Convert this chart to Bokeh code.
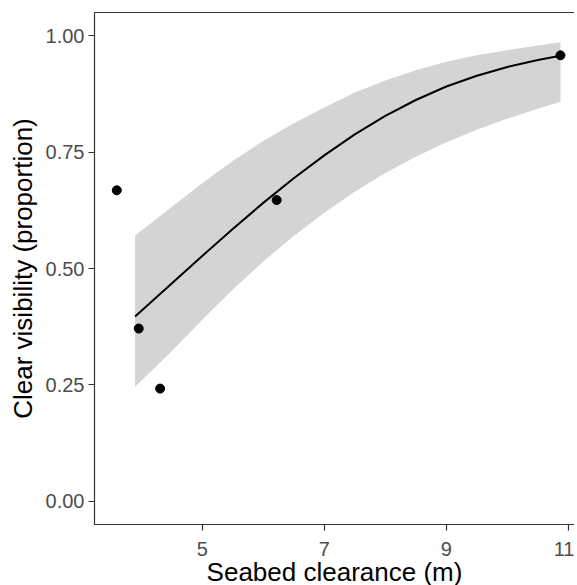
from bokeh.plotting import figure
from bokeh.models import Range1d, FixedTicker, LinearAxis, ColumnDataSource
from bokeh.embed import file_html
from bokeh.resources import INLINE

# observed points
obs_x = [3.60, 3.96, 4.31, 6.22, 10.87]
obs_y = [0.668, 0.371, 0.242, 0.647, 0.958]

# fitted curve and confidence band
fit_x = [3.9, 4.5, 5.0, 5.5, 6.0, 6.5, 7.0, 7.5, 8.0, 8.5, 9.0, 9.5, 10.0, 10.5, 10.87]
fit_y = [0.397, 0.468, 0.527, 0.585, 0.641, 0.694, 0.743, 0.788, 0.828, 0.862, 0.891, 0.914, 0.933, 0.948, 0.957]
fit_upper = [0.571, 0.632, 0.683, 0.731, 0.774, 0.812, 0.846, 0.878, 0.904, 0.926, 0.944, 0.958, 0.969, 0.979, 0.986]
fit_lower = [0.246, 0.322, 0.390, 0.455, 0.515, 0.570, 0.620, 0.665, 0.705, 0.740, 0.771, 0.798, 0.822, 0.843, 0.858]

x_ticks = [5, 7, 9, 11]
y_ticks = [0.0, 0.25, 0.5, 0.75, 1.0]
y_tick_labels = ["0.00", "0.25", "0.50", "0.75", "1.00"]

x_title = "Seabed clearance (m)"
y_title = "Clear visibility (proportion)"

FONT = "Liberation Sans"

p = figure(width=574, height=589, output_backend="svg", toolbar_location=None,
           x_range=Range1d(3.235, 11.1), y_range=Range1d(-0.05, 1.05),
           min_border_left=94, min_border_right=0, min_border_top=12, min_border_bottom=65)
p.outline_line_color = None
p.xgrid.visible = False
p.ygrid.visible = False
p.background_fill_color = "white"
p.border_fill_color = "white"

band = ColumnDataSource(dict(x=fit_x, lo=fit_lower, hi=fit_upper))
p.varea(x="x", y1="lo", y2="hi", source=band, fill_color="#D4D4D4", fill_alpha=1.0)
p.line(fit_x, fit_y, line_color="black", line_width=2)
p.scatter(obs_x, obs_y, size=9, fill_color="black", line_color="black")

for ax in (p.xaxis[0], p.yaxis[0]):
    ax.axis_line_color = "#333333"
    ax.axis_line_width = 1.2
    ax.major_tick_line_color = "#333333"
    ax.major_tick_line_width = 1.2
    ax.major_tick_out = 6
    ax.major_tick_in = 0
    ax.minor_tick_line_color = None
    ax.major_label_text_font = FONT
    ax.major_label_text_font_size = "20px"
    ax.major_label_text_color = "#4D4D4D"
    ax.axis_label_text_font = FONT
    ax.axis_label_text_font_size = "26px"
    ax.axis_label_text_font_style = "normal"
    ax.axis_label_text_color = "black"

p.xaxis[0].ticker = FixedTicker(ticks=x_ticks)
p.xaxis[0].axis_label = x_title
p.xaxis[0].major_label_standoff = 11
p.xaxis[0].axis_label_standoff = -2

p.yaxis[0].ticker = FixedTicker(ticks=y_ticks)
p.yaxis[0].major_label_overrides = {t: s for t, s in zip(y_ticks, y_tick_labels)}
p.yaxis[0].axis_label = y_title
p.yaxis[0].major_label_standoff = 4
p.yaxis[0].axis_label_standoff = 5

top = LinearAxis(ticker=FixedTicker(ticks=[]), axis_line_color="#333333", axis_line_width=1.2,
                 major_tick_out=0, major_tick_in=0, minor_tick_line_color=None,
                 major_label_text_font_size="0px", major_label_standoff=0)
p.add_layout(top, "above")

open("out.html", "w").write(file_html(p, INLINE))
